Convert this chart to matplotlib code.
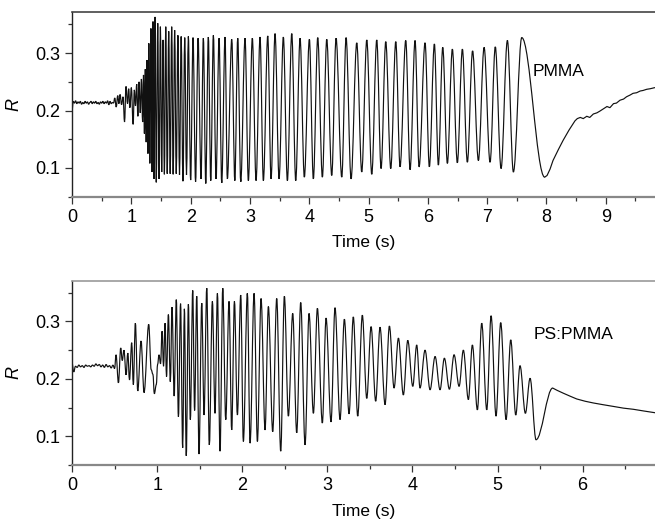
import numpy as np
import matplotlib
matplotlib.use("Agg")
import matplotlib.pyplot as plt
from matplotlib.path import Path
from matplotlib.patches import PathPatch
from matplotlib.ticker import MultipleLocator

plt.rcParams['font.family'] = ['Liberation Sans', 'DejaVu Sans']

# --- PMMA trace: quiet baseline, onset, fringes (peaks / troughs), relaxation tail
pmma_flat_r = [0.200, 0.216, 0.213, 0.217, 0.212, 0.215, 0.213, 0.216, 0.211, 0.214,
               0.212, 0.216, 0.213, 0.215, 0.211, 0.214, 0.216, 0.212, 0.215, 0.213,
               0.216, 0.212, 0.214, 0.211, 0.215, 0.213, 0.216, 0.212, 0.215, 0.213,
               0.217, 0.210, 0.216, 0.212, 0.214]
pmma_flat_t = np.linspace(0, 0.68, len(pmma_flat_r))

pmma_onset_t = [0.70, 0.72, 0.745, 0.77, 0.79, 0.81, 0.835, 0.86, 0.885, 0.91, 0.935, 0.955,
                0.975, 1.00, 1.03, 1.05, 1.07, 1.09, 1.11, 1.13, 1.15, 1.17, 1.19]
pmma_onset_r = [0.213, 0.222, 0.206, 0.226, 0.212, 0.228, 0.210, 0.224, 0.180, 0.242, 0.212, 0.238,
                0.205, 0.240, 0.176, 0.236, 0.208, 0.246, 0.190, 0.250, 0.196, 0.255, 0.180]

pmma_peak_t = [1.205, 1.235, 1.265, 1.295, 1.33, 1.365, 1.40, 1.445, 1.49, 1.535, 1.58, 1.63,
               1.68, 1.73, 1.785, 1.84, 1.90, 1.961, 2.040, 2.125, 2.214, 2.298, 2.383, 2.479,
               2.580, 2.693, 2.794, 2.917, 3.040, 3.170, 3.300, 3.423, 3.563, 3.705, 3.845,
               4.002, 4.143, 4.295, 4.452, 4.621, 4.801, 4.970, 5.138, 5.290, 5.459, 5.627,
               5.784, 5.953, 6.110, 6.251, 6.413, 6.582, 6.754, 6.948, 7.137, 7.341, 7.583]
pmma_peak_r = [0.262, 0.272, 0.288, 0.317, 0.343, 0.355, 0.363, 0.352, 0.346, 0.323, 0.346, 0.338,
               0.346, 0.340, 0.331, 0.329, 0.327, 0.329, 0.327, 0.326, 0.326, 0.328, 0.331, 0.326,
               0.328, 0.324, 0.326, 0.326, 0.326, 0.328, 0.330, 0.334, 0.328, 0.334, 0.326,
               0.324, 0.327, 0.324, 0.326, 0.327, 0.318, 0.323, 0.323, 0.320, 0.320, 0.322,
               0.322, 0.318, 0.316, 0.310, 0.307, 0.307, 0.304, 0.310, 0.311, 0.322, 0.327]

pmma_trough_t = [1.22, 1.25, 1.28, 1.312, 1.348, 1.383, 1.42, 1.467, 1.512, 1.557, 1.605, 1.655,
                 1.705, 1.757, 1.812, 1.87, 1.93, 2.00, 2.083, 2.175, 2.255, 2.339, 2.428, 2.524,
                 2.619, 2.745, 2.845, 2.973, 3.103, 3.226, 3.356, 3.491, 3.631, 3.772, 3.917,
                 4.069, 4.221, 4.379, 4.548, 4.705, 4.885, 5.054, 5.211, 5.374, 5.531, 5.700,
                 5.852, 6.025, 6.177, 6.329, 6.497, 6.666, 6.852, 7.049, 7.234, 7.442, 7.97]
pmma_trough_r = [0.160, 0.145, 0.125, 0.108, 0.093, 0.081, 0.075, 0.081, 0.093, 0.089, 0.090, 0.090,
                 0.089, 0.090, 0.088, 0.077, 0.088, 0.079, 0.076, 0.081, 0.073, 0.078, 0.081, 0.074,
                 0.081, 0.078, 0.076, 0.078, 0.078, 0.078, 0.081, 0.081, 0.078, 0.078, 0.084,
                 0.081, 0.084, 0.087, 0.084, 0.081, 0.093, 0.089, 0.099, 0.099, 0.102, 0.097,
                 0.102, 0.102, 0.105, 0.108, 0.109, 0.110, 0.113, 0.110, 0.099, 0.093, 0.084]

# slow recovery after the film ruptures (starts at the last minimum)
pmma_tail_t = [7.97, 8.01, 8.06, 8.11, 8.20, 8.28, 8.38, 8.48, 8.52,
               8.57, 8.62, 8.68, 8.73, 8.79, 8.85, 8.90, 8.96, 9.02, 9.07, 9.13, 9.18, 9.24, 9.30,
               9.35, 9.41, 9.46, 9.52, 9.58, 9.63, 9.69, 9.75, 9.83]
pmma_tail_r = [0.084, 0.087, 0.098, 0.113, 0.132, 0.148, 0.166,
               0.182, 0.186, 0.188, 0.186, 0.190, 0.188, 0.194, 0.196, 0.199, 0.203, 0.207, 0.205,
               0.212, 0.213, 0.218, 0.220, 0.224, 0.227, 0.230, 0.231, 0.234, 0.235, 0.237, 0.238,
               0.240]

# --- PS:PMMA trace
ps_flat_r = [0.227, 0.212, 0.222, 0.220, 0.224, 0.221, 0.223, 0.220, 0.224, 0.222, 0.223, 0.221,
             0.224, 0.222, 0.226, 0.223, 0.225, 0.221, 0.224, 0.220, 0.225, 0.221, 0.223, 0.219,
             0.224, 0.218]
ps_flat_t = np.linspace(0, 0.50, len(ps_flat_r))

ps_onset_t = [0.517, 0.545, 0.572, 0.59, 0.61, 0.635, 0.655, 0.675, 0.701, 0.72, 0.744, 0.772,
              0.811, 0.846, 0.901, 0.93, 0.95, 0.967, 0.99, 1.005, 1.022, 1.04, 1.058, 1.075]
ps_onset_r = [0.242, 0.193, 0.254, 0.232, 0.250, 0.207, 0.245, 0.198, 0.263, 0.190, 0.297, 0.179,
              0.266, 0.176, 0.295, 0.216, 0.208, 0.174, 0.190, 0.225, 0.242, 0.226, 0.283, 0.222]

ps_peak_t = [1.093, 1.132, 1.175, 1.225, 1.275, 1.32, 1.367, 1.418, 1.465, 1.524,
             1.583, 1.649, 1.708, 1.771, 1.845, 1.908, 1.982, 2.06, 2.139, 2.221,
             2.307, 2.405, 2.495, 2.593, 2.687, 2.785, 2.883, 2.985, 3.09, 3.20,
             3.305, 3.411, 3.514, 3.619, 3.729, 3.835, 3.945, 4.05, 4.148, 4.266,
             4.375, 4.489, 4.598, 4.704, 4.814, 4.924, 5.037, 5.155, 5.264, 5.382, 5.648]
ps_peak_r = [0.297, 0.312, 0.325, 0.338, 0.331, 0.322, 0.330, 0.354, 0.344, 0.332,
             0.358, 0.335, 0.349, 0.358, 0.335, 0.335, 0.346, 0.349, 0.349, 0.340,
             0.326, 0.340, 0.344, 0.314, 0.333, 0.314, 0.323, 0.306, 0.324, 0.304,
             0.308, 0.311, 0.291, 0.290, 0.292, 0.271, 0.267, 0.259, 0.250, 0.239,
             0.236, 0.242, 0.250, 0.259, 0.297, 0.310, 0.298, 0.268, 0.223, 0.201, 0.184]

ps_trough_t = [1.11, 1.155, 1.20, 1.25, 1.30, 1.342, 1.39, 1.44, 1.492, 1.551,
               1.613, 1.68, 1.739, 1.806, 1.876, 1.943, 2.013, 2.092, 2.178, 2.268,
               2.358, 2.452, 2.542, 2.64, 2.738, 2.836, 2.941, 3.043, 3.149, 3.255,
               3.357, 3.463, 3.568, 3.678, 3.784, 3.893, 4.004, 4.089, 4.207, 4.324,
               4.434, 4.548, 4.657, 4.763, 4.873, 4.982, 5.10, 5.214, 5.327, 5.452]
ps_trough_r = [0.204, 0.195, 0.170, 0.134, 0.080, 0.066, 0.129, 0.145, 0.069, 0.137,
               0.085, 0.140, 0.074, 0.129, 0.111, 0.137, 0.091, 0.088, 0.091, 0.111,
               0.108, 0.074, 0.135, 0.106, 0.085, 0.140, 0.123, 0.125, 0.129, 0.139,
               0.135, 0.166, 0.161, 0.155, 0.184, 0.172, 0.187, 0.184, 0.181, 0.181,
               0.182, 0.187, 0.164, 0.146, 0.146, 0.135, 0.129, 0.137, 0.140, 0.094]

ps_tail_t = [5.648, 5.70, 5.773, 5.85, 5.93, 6.03, 6.126, 6.24, 6.361, 6.48, 6.596, 6.72, 6.851]
ps_tail_r = [0.184, 0.180, 0.175, 0.170, 0.165, 0.161, 0.158, 0.155, 0.152, 0.149, 0.147, 0.144,
             0.141]


def merge(parts):
    t = np.concatenate([np.asarray(p[0], float) for p in parts])
    r = np.concatenate([np.asarray(p[1], float) for p in parts])
    order = np.argsort(t, kind="stable")
    return t[order], r[order]


def trace_path(t, r, tail_t, tail_r, handle=0.36):
    # extrema joined by cubic segments with flat tangents, tail joined by straight lines
    verts = [(t[0], r[0])]
    codes = [Path.MOVETO]
    for i in range(len(t) - 1):
        h = handle * (t[i + 1] - t[i])
        verts += [(t[i] + h, r[i]), (t[i + 1] - h, r[i + 1]), (t[i + 1], r[i + 1])]
        codes += [Path.CURVE4] * 3
    for x, y in zip(tail_t[1:], tail_r[1:]):
        verts.append((x, y))
        codes.append(Path.LINETO)
    return Path(verts, codes)


pmma_t, pmma_r = merge([(pmma_flat_t, pmma_flat_r), (pmma_onset_t, pmma_onset_r),
                        (pmma_peak_t, pmma_peak_r), (pmma_trough_t, pmma_trough_r)])
ps_t, ps_r = merge([(ps_flat_t, ps_flat_r), (ps_onset_t, ps_onset_r),
                    (ps_peak_t, ps_peak_r), (ps_trough_t, ps_trough_r)])

fig = plt.figure(figsize=(6.55, 5.2), dpi=100)
ax1 = fig.add_axes([0.110, 0.6217, 0.890, 0.3546])
ax2 = fig.add_axes([0.110, 0.1058, 0.890, 0.3544])


def style(ax, xmax, top_color):
    ax.set_xlim(0, xmax)
    ax.set_ylim(0.05, 0.371)
    ax.set_yticks([0.1, 0.2, 0.3])
    ax.yaxis.set_minor_locator(MultipleLocator(0.05))
    ax.xaxis.set_major_locator(MultipleLocator(1))
    ax.xaxis.set_minor_locator(MultipleLocator(0.5))
    ax.spines['right'].set_visible(False)
    ax.spines['left'].set_color('#222222')
    ax.spines['left'].set_linewidth(1.0)
    ax.spines['top'].set_color(top_color)
    ax.spines['top'].set_linewidth(1.2)
    ax.spines['bottom'].set_color('#888888')
    ax.spines['bottom'].set_linewidth(1.6)
    ax.tick_params(which='major', direction='out', length=5, width=0.9,
                   color='#333333', labelsize=13, pad=3.5)
    ax.tick_params(which='minor', direction='out', length=2.7, width=0.9, color='#333333')
    ax.set_xlabel('Time (s)', fontsize=12.5, labelpad=7)
    ax.set_ylabel('R', fontsize=13, style='italic', labelpad=9)


ax1.add_patch(PathPatch(trace_path(pmma_t, pmma_r, pmma_tail_t, pmma_tail_r),
                        facecolor='none', edgecolor='#111111', lw=0.85))
style(ax1, 9.83, '#444444')
ax1.text(7.77, 0.2686, 'PMMA', fontsize=12.5, va='center', ha='left')

ax2.add_patch(PathPatch(trace_path(ps_t, ps_r, ps_tail_t, ps_tail_r),
                        facecolor='none', edgecolor='#111111', lw=0.85))
style(ax2, 6.85, '#999999')
ax2.text(5.42, 0.2765, 'PS:PMMA', fontsize=12.5, va='center', ha='left')

fig.savefig('out.png', dpi=100)
